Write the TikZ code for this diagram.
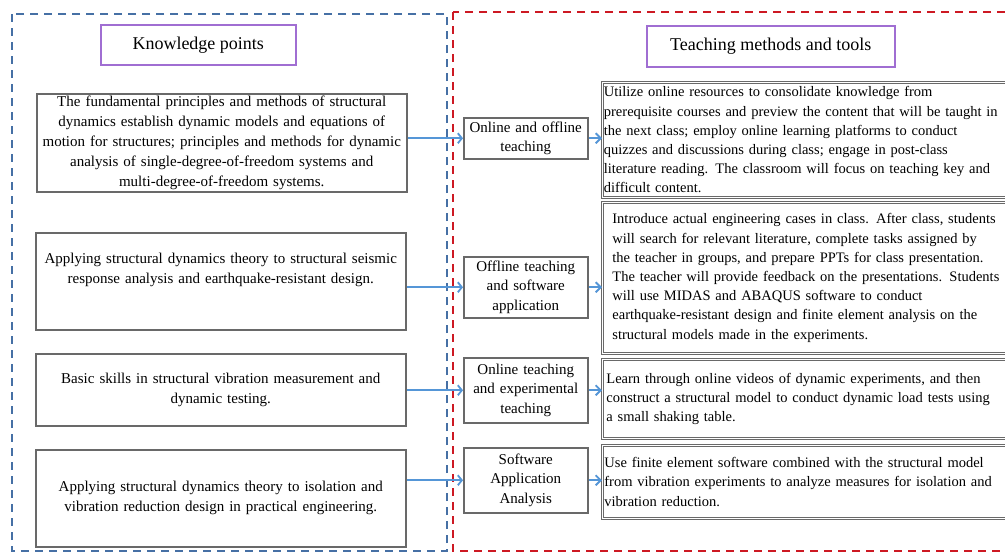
\documentclass[tikz,border=0pt]{standalone}
\usepackage{fontspec}
\setmainfont{Liberation Serif}
\usetikzlibrary{arrows.meta}
\definecolor{fblue}{RGB}{70,112,165}
\definecolor{fred}{RGB}{205,25,35}
\definecolor{abl}{RGB}{85,150,215}
\definecolor{purp}{RGB}{160,110,210}
\definecolor{bgray}{RGB}{105,105,105}
\newcommand\myfont{\fontsize{15}{19.8}\selectfont}
\newcommand\myrfont{\fontsize{14.5}{19.2}\selectfont}
\newcommand\mytfont{\fontsize{18}{20}\selectfont}
\begin{document}
\begin{tikzpicture}[x=1pt,y=-1pt,
  frameblue/.style={draw=fblue,line width=2pt,dash pattern=on 8pt off 6pt},
  framered/.style={draw=fred,line width=2pt,dash pattern=on 8pt off 6pt},
  titlebox/.style={draw=purp,line width=1.5pt,anchor=north west,inner sep=0pt,font=\mytfont,align=center},
  kbox/.style={draw=bgray,line width=1.5pt,anchor=north west,inner xsep=3pt,inner ysep=0pt,minimum width=370pt,text width=364pt,align=center,font=\myfont},
  mbox/.style={draw=bgray,line width=1.5pt,anchor=north west,inner sep=0pt,minimum width=124pt,text width=120pt,align=center,font=\myfont},
  rbox/.style={draw=bgray,line width=0.8pt,double=white,double distance=1pt,anchor=north west,inner ysep=0pt,text width=440pt,align=left,font=\myrfont},
  arr/.style={draw=abl,line width=1.8pt,-{Straight Barb[length=4pt,width=10pt,line width=1.8pt]}},
  arrs/.style={draw=abl,line width=1.8pt,-{Straight Barb[length=5pt,width=10pt,line width=1.8pt]}}]
\clip (0,0) rectangle (1005,552);
\fill[white] (0,0) rectangle (1005,552);
% frames
\draw[frameblue] (12,14) rectangle (447,551);
\draw[framered] (453,12) rectangle (1030,551);
% titles
\node[titlebox,minimum width=195pt,minimum height=40pt] (kp) at (100,24) {Knowledge points};
\node[titlebox,minimum width=248pt,minimum height=41pt] (tm) at (646,25) {Teaching methods and tools};
% left boxes
\node[kbox,minimum height=98pt] (L1) at (36,93) {The fundamental principles and methods of structural\\ dynamics establish dynamic models and equations of\\ motion for structures; principles and methods for dynamic\\ analysis of single-degree-of-freedom systems and\\ multi-degree-of-freedom systems.};
\node[kbox,minimum height=97pt] (L2) at (35,232) {Applying structural dynamics theory to structural seismic\\ response analysis and earthquake-resistant design.\\ \strut};
\node[kbox,minimum height=72pt] (L3) at (35,353) {Basic skills in structural vibration measurement and\\ dynamic testing.};
\node[kbox,minimum height=97pt] (L4) at (35,449) {Applying structural dynamics theory to isolation and\\ vibration reduction design in practical engineering.};
% middle boxes
\node[mbox,minimum height=41pt] (M1) at (463,117) {Online and offline\\ teaching};
\node[mbox,minimum height=61pt] (M2) at (463,256) {Offline teaching\\ and software\\ application};
\node[mbox,minimum height=65pt] (M3) at (463,357) {Online teaching\\ and experimental\\ teaching};
\node[mbox,minimum height=65pt] (M4) at (463,447) {Software\\ Application\\ Analysis};
% right boxes
\node[rbox,inner xsep=1.5pt,minimum height=115pt] (R1) at (602,82) {Utilize online resources to consolidate knowledge from\\ prerequisite courses and preview the content that will be taught in\\ the next class; employ online learning platforms to conduct\\ quizzes and discussions during class; engage in post-class\\ literature reading. The classroom will focus on teaching key and\\ difficult content.};
\node[rbox,inner xsep=10pt,minimum height=151pt] (R2) at (602,202) {Introduce actual engineering cases in class. After class, students\\ will search for relevant literature, complete tasks assigned by\\ the teacher in groups, and prepare PPTs for class presentation.\\ The teacher will provide feedback on the presentations. Students\\ will use MIDAS and ABAQUS software to conduct\\ earthquake-resistant design and finite element analysis on the\\ structural models made in the experiments.};
\node[rbox,inner xsep=4pt,minimum height=79pt] (R3) at (602,359) {Learn through online videos of dynamic experiments, and then\\ construct a structural model to conduct dynamic load tests using\\ a small shaking table.};
\node[rbox,inner xsep=2pt,minimum height=73pt] (R4) at (602,445) {Use finite element software combined with the structural model\\ from vibration experiments to analyze measures for isolation and\\ vibration reduction.};
% connectors left -> middle
\draw[arr] (M1.west -| L1.east) -- (M1.west);
\draw[arr] (M2.west -| L2.east) -- (M2.west);
\draw[arr] (M3.west -| L3.east) -- (M3.west);
\draw[arr] (M4.west -| L4.east) -- (M4.west);
% connectors middle -> right
\draw[arrs] (M1.east) -- (M1.east -| R1.west);
\draw[arrs] (M2.east) -- (M2.east -| R2.west);
\draw[arrs] (M3.east) -- (M3.east -| R3.west);
\draw[arrs] (M4.east) -- (M4.east -| R4.west);
\end{tikzpicture}
\end{document}
